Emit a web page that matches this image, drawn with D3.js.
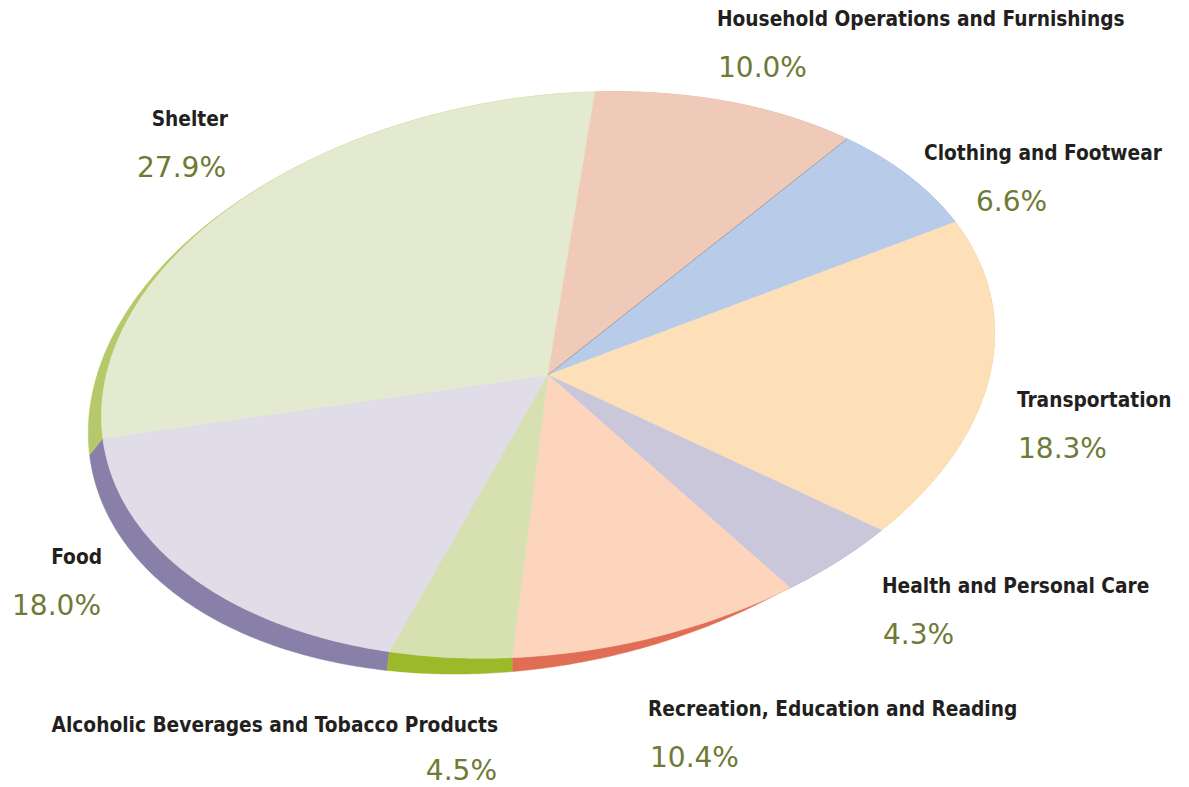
<!DOCTYPE html>
<html>
<head>
<meta charset="utf-8">
<script src="https://cdn.jsdelivr.net/npm/d3@7"></script>
<style>
  body { margin: 0; background: #ffffff; }
  .cat { font-family: "DejaVu Sans Condensed", "DejaVu Sans", sans-serif; font-weight: bold; font-size: 20.7px; fill: #231f20; }
  .pct { font-family: "DejaVu Sans", sans-serif; font-size: 28px; fill: #6e7a36; }
</style>
</head>
<body>
<div id="chart"></div>
<script>
// basket shares, in the order the slices run clockwise
const categories = [
    "Food",
    "Shelter",
    "Household Operations and Furnishings",
    "Clothing and Footwear",
    "Transportation",
    "Health and Personal Care",
    "Recreation, Education and Reading",
    "Alcoholic Beverages and Tobacco Products"
];
const shares = [18.0, 27.9, 10.0, 6.6, 18.3, 4.3, 10.4, 4.5];
const pctLabels = ["18.0%", "27.9%", "10.0%", "6.6%", "18.3%", "4.3%", "10.4%", "4.5%"];

const topColors  = ["#e0dde8", "#e4eacf", "#f0cab8", "#b8cbe9", "#fee0b8", "#cbc7da", "#fdd5bd", "#d7e0b0"];
const sideColors = ["#8880a9", "#b6c96a", "#d89a80", "#7f9fd2", "#f0b870", "#9890b5", "#e06e55", "#9cb92a"];

// label placement: [x, baseline, anchor] for the name, then for the percent
const labelPos = [
    [102, 564, "end",   101, 615, "end"],
    [228, 126, "end",   226, 177, "end"],
    [717, 26,  "start", 718, 77,  "start"],
    [924, 160, "start", 976, 211, "start"],
    [1017, 407, "start", 1018, 458, "start"],
    [882, 593, "start", 883, 644, "start"],
    [648, 716, "start", 650, 767, "start"],
    [498, 732, "end",   497, 780, "end"]
];

const svgWidth = 1189;
const svgHeight = 787;

// tilted disc: centre and the two projected radius vectors
const cx = 548, cy = 375;
const ex = 444, ey = -12;   // image of the "3 o'clock" radius
const fx = -47, fy = 283;   // image of the "6 o'clock" radius
const depth = 24;

function proj(a) {
    return [cx + ex * Math.sin(a) - fx * Math.cos(a),
            cy + ey * Math.sin(a) - fy * Math.cos(a)];
}

// edge of the disc, thicker toward the front left
function sidePoint(a) {
    const p = proj(a);
    const deg = ((a * 180 / Math.PI) % 360 + 360) % 360;
    const t = depth * Math.max(0, Math.cos((deg - 233) * Math.PI / 180));
    const th = (90 + 0.47 * (deg - 178.56)) * Math.PI / 180;
    return [p[0] + t * Math.cos(th), p[1] + t * Math.sin(th)];
}

const svg = d3.select("#chart")
    .append("svg")
    .attr("width", svgWidth)
    .attr("height", svgHeight);

const total = d3.sum(shares);
const offset = (shares[0] + shares[1]) / total * 2 * Math.PI;

const pie = d3.pie()
    .sort(null)
    .startAngle(-offset)
    .endAngle(2 * Math.PI - offset);

const arcs = pie(shares);
const line = d3.line();

function rimAngles(d) {
    const n = Math.max(2, Math.ceil((d.endAngle - d.startAngle) / 0.01));
    return d3.range(n + 1).map(i => d.startAngle + (d.endAngle - d.startAngle) * i / n);
}

// side walls first
svg.append("g")
    .selectAll("path")
    .data(arcs)
    .enter().append("path")
    .attr("d", d => {
        const as = rimAngles(d);
        const pts = as.map(proj).concat(as.slice().reverse().map(sidePoint));
        return line(pts) + "Z";
    })
    .attr("fill", (d, i) => sideColors[i])
    .attr("stroke", (d, i) => sideColors[i])
    .attr("stroke-width", 0.5);

// top faces
svg.append("g")
    .selectAll("path")
    .data(arcs)
    .enter().append("path")
    .attr("d", d => line([[cx, cy]].concat(rimAngles(d).map(proj))) + "Z")
    .attr("fill", (d, i) => topColors[i])
    .attr("stroke", (d, i) => topColors[i])
    .attr("stroke-width", 0.5);

// thin seam between household and clothing
svg.append("path")
    .attr("d", line([[cx, cy], proj(arcs[3].startAngle)]))
    .attr("stroke", "#8c8c8c")
    .attr("stroke-width", 0.7)
    .attr("fill", "none");

// labels
const labels = svg.append("g");
labels.selectAll(".cat")
    .data(categories)
    .enter().append("text")
    .attr("class", "cat")
    .attr("x", (d, i) => labelPos[i][0])
    .attr("y", (d, i) => labelPos[i][1])
    .attr("text-anchor", (d, i) => labelPos[i][2])
    .text(d => d);

labels.selectAll(".pct")
    .data(pctLabels)
    .enter().append("text")
    .attr("class", "pct")
    .attr("x", (d, i) => labelPos[i][3])
    .attr("y", (d, i) => labelPos[i][4])
    .attr("text-anchor", (d, i) => labelPos[i][5])
    .text(d => d);
</script>
</body>
</html>
